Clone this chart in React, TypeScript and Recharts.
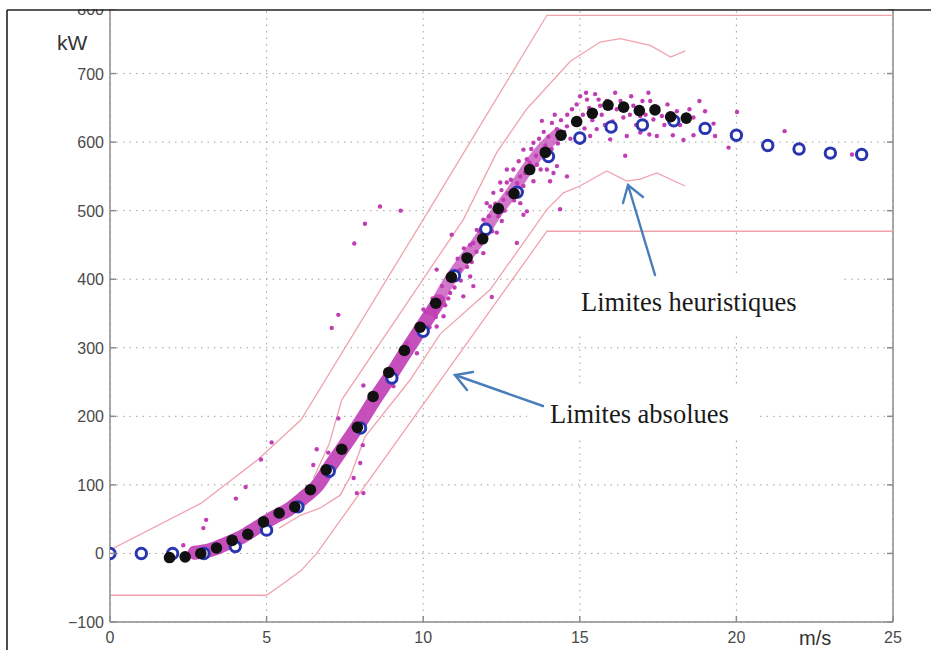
import React from "react";
import {
  ComposedChart,
  Line,
  Scatter,
  XAxis,
  YAxis,
  CartesianGrid,
  ReferenceLine
} from "recharts";

// tick labels
const xTicks = [0, 5, 10, 15, 20, 25];
const yTicks = [-100, 0, 100, 200, 300, 400, 500, 600, 700, 800];

// bin averages (black dots)
const binX = [1.9, 2.4, 2.9, 3.4, 3.9, 4.4, 4.9, 5.4, 5.9, 6.4, 6.9, 7.4, 7.9, 8.4, 8.9, 9.4, 9.9, 10.4, 10.9, 11.4, 11.9, 12.4, 12.9, 13.4, 13.9, 14.4, 14.9, 15.4, 15.9, 16.4, 16.9, 17.4, 17.9, 18.4];
const binY = [-6, -5, 0, 8, 19, 28, 46, 59, 68, 93, 122, 152, 184, 229, 264, 296, 330, 365, 403, 431, 459, 503, 525, 560, 585, 610, 630, 642, 654, 651, 646, 647, 637, 635];

// reference curve (blue rings)
const refX = [0, 1, 2, 3, 4, 5, 6, 7, 8, 9, 10, 11, 12, 13, 14, 15, 16, 17, 18, 19, 20, 21, 22, 23, 24];
const refY = [0, 0, 0, 0, 10, 34, 68, 120, 183, 256, 324, 405, 473, 527, 579, 606, 622, 625, 631, 620, 610, 595, 590, 584, 582];

// dense cloud of measurements
const denseBand: [number, number][] = [
  [2.7, 1], [3.2, 5], [3.7, 14], [4.2, 24], [4.7, 38], [5.2, 52], [5.7, 64], [6.2, 82],
  [6.6, 98], [7.0, 125], [7.5, 158], [8.0, 192], [8.5, 228], [9.0, 262], [9.5, 298], [10.0, 333], [10.5, 368]
];
const looseBand: [number, number][] = [
  [10.3, 355], [10.8, 395], [11.3, 428], [11.8, 458], [12.3, 495], [12.8, 525], [13.3, 560], [13.8, 590], [14.3, 612]
];

// scattered measurements
const spreadDots: [number, number][] = [
  [2.34, 12], [2.98, 37], [3.07, 49], [4.02, 80], [4.33, 97], [4.82, 137], [5.16, 162], [6.49, 129],
  [6.6, 152], [6.97, 147], [7.29, 197], [8.09, 245], [7.88, 88], [8.09, 88], [7.78, 110], [7.99, 132],
  [8.07, 158], [7.29, 348], [7.08, 329], [7.8, 452], [8.14, 481], [8.62, 506], [9.28, 500], [9.05, 244],
  [9.48, 307], [9.8, 292], [10.01, 356], [10.43, 331], [10.43, 414], [10.65, 346], [10.86, 380], [10.91, 465],
  [11.18, 414], [11.28, 375], [11.5, 404], [11.6, 390], [11.6, 453], [11.71, 472], [11.92, 438], [11.92, 487],
  [12.03, 511], [12.14, 506], [12.19, 374], [12.24, 526], [12.35, 468], [12.46, 541], [12.51, 485], [12.56, 516],
  [12.67, 541], [12.67, 560], [12.88, 560], [12.99, 453], [13.1, 511], [13.1, 550], [13.2, 494], [13.2, 536],
  [13.2, 589], [13.31, 499], [13.31, 575], [13.52, 543], [13.52, 599], [13.63, 567], [13.79, 631], [13.95, 560],
  [14.05, 543], [14.11, 628], [14.16, 555], [14.27, 565], [14.27, 619], [14.37, 502], [14.59, 550], [14.59, 623],
  [14.75, 648], [15.01, 599], [15.01, 667], [15.2, 672], [15.23, 662], [15.33, 609], [15.49, 670], [15.54, 619],
  [15.65, 653], [15.86, 660], [15.97, 604], [16.13, 672], [16.18, 648], [16.39, 636], [16.45, 580], [16.5, 609],
  [16.64, 667], [16.71, 653], [16.93, 614], [16.93, 638], [17.19, 672], [17.25, 660], [17.22, 611], [17.35, 633],
  [17.46, 609], [17.62, 638], [17.7, 625], [17.97, 610], [18.31, 603], [18.63, 610], [18.63, 636], [18.82, 660],
  [19.27, 627], [19.32, 609], [19.75, 592], [20.02, 644], [21.54, 616], [23.69, 582],
  [10.1, 352], [10.2, 330], [10.3, 372], [10.4, 345], [10.6, 390], [10.7, 362], [10.8, 372], [10.9, 410],
  [11.0, 388], [11.1, 430], [11.2, 398], [11.3, 445], [11.4, 418], [11.5, 450], [11.55, 425], [11.7, 440],
  [11.8, 470], [11.85, 452], [12.0, 478], [12.1, 492], [12.2, 470], [12.3, 510], [12.4, 492], [12.5, 530],
  [12.6, 500], [12.7, 525], [12.8, 545], [12.9, 515], [13.0, 540], [13.05, 572], [13.15, 528], [13.25, 555],
  [13.4, 570], [13.45, 590], [13.6, 580], [13.7, 605], [13.75, 560], [13.85, 615], [13.9, 595], [14.0, 608],
  [14.1, 590], [14.2, 640], [14.3, 598], [14.4, 632], [14.5, 615], [14.6, 640], [14.7, 605], [14.85, 630],
  [14.9, 655], [15.1, 640], [15.15, 620], [15.3, 650], [15.4, 632], [15.6, 662], [15.7, 640], [15.8, 625],
  [16.0, 650], [16.05, 630], [16.3, 660], [16.6, 640], [16.8, 625], [17.0, 660], [17.1, 640], [17.5, 650],
  [17.8, 655], [18.1, 645], [18.2, 625], [18.5, 648], [19.0, 645]
];

// limit curves
const upperAbs: [number, number][] = [[0, 5], [2.9, 73], [4.7, 136], [6.1, 195], [10, 487], [13.95, 785], [25, 785]];
const lowerAbs: [number, number][] = [[0, -61], [5, -61], [5.5, -45], [6.1, -25], [6.6, 0], [13.95, 470], [25, 470]];
const upperHeur: [number, number][] = [
  [6.5, 110], [7.0, 160], [7.4, 224], [11.28, 487], [12.35, 585], [13.3, 648], [14.7, 718], [15.65, 746],
  [16.29, 751], [17.25, 741], [17.9, 724], [18.37, 733]
];
const lowerHeur: [number, number][] = [
  [5.4, 37], [6.1, 56], [6.7, 66], [7.35, 85], [7.67, 112], [8.14, 170], [9.58, 253], [10.54, 320],
  [12.14, 385], [13.2, 453], [13.95, 502], [14.48, 526], [15.0, 536], [15.86, 558], [16.5, 543],
  [16.93, 546], [17.46, 555], [18.36, 536]
];

const pts = (a: [number, number][]) => a.map(([x, y]) => ({ x, y }));
const zip = (xs: number[], ys: number[]) => xs.map((x, i) => ({ x, y: ys[i] }));

const PINK = "#f0a3ad";
const MAGENTA = "#c03db4";
const BLUE = "#2a36b0";
const AXIS = "#8c8c8c";
const GRID = "#a0a0a0";
const PLOT_W = 783;
const TICK_FONT = "'Liberation Sans', Arial, sans-serif";

const XTick = (p: any) => (
  <g>
    <line x1={p.x} x2={p.x} y1={p.y} y2={p.y - 6} stroke={AXIS} strokeWidth={1.5} />
    <text x={p.x} y={p.y + 21} textAnchor="middle" fontSize={16} fill="#4a4a4a" fontFamily={TICK_FONT}>
      {p.payload.value}
    </text>
  </g>
);

const YTick = (p: any) => (
  <g>
    <line x1={p.x} x2={p.x + 6} y1={p.y} y2={p.y} stroke={AXIS} strokeWidth={1.5} />
    <line x1={p.x + PLOT_W - 6} x2={p.x + PLOT_W} y1={p.y} y2={p.y} stroke={AXIS} strokeWidth={1.5} />
    <text x={p.x - 6} y={p.y + 6} textAnchor="end" fontSize={16} fill="#4a4a4a" fontFamily={TICK_FONT}>
      {p.payload.value < 0 ? "\u2212" + Math.abs(p.payload.value) : p.payload.value}
    </text>
  </g>
);

const smallDot = (p: any) => <circle cx={p.cx} cy={p.cy} r={2.2} fill={MAGENTA} />;
const blackDot = (p: any) => <circle cx={p.cx} cy={p.cy} r={5.8} fill="#111" />;
const ring = (p: any) => <circle cx={p.cx} cy={p.cy} r={5.2} fill="#fff" stroke={BLUE} strokeWidth={3} />;

const limitLine = (data: [number, number][], key: string) => (
  <Line
    key={key}
    data={pts(data)}
    dataKey="y"
    type="linear"
    stroke={PINK}
    strokeWidth={1.3}
    dot={false}
    isAnimationActive={false}
  />
);

export default function App() {
  return (
    <div style={{ position: "absolute", left: 0, top: 0, width: 931, height: 650, background: "#fff", overflow: "hidden" }}>
      <ComposedChart width={931} height={650} margin={{ top: 5, right: 38, bottom: 6, left: 60 }}>
        <CartesianGrid stroke={GRID} strokeDasharray="1.5 5" />
        <XAxis
          type="number"
          dataKey="x"
          domain={[0, 25]}
          ticks={xTicks}
          height={22}
          tickSize={0}
          tickMargin={0}
          tick={<XTick />}
          axisLine={{ stroke: AXIS, strokeWidth: 1.5 }}
          allowDataOverflow
        />
        <YAxis
          type="number"
          dataKey="y"
          domain={[-100, 800]}
          ticks={yTicks}
          width={50}
          tickSize={0}
          tickMargin={0}
          tick={<YTick />}
          axisLine={{ stroke: AXIS, strokeWidth: 1.5 }}
          allowDataOverflow
        />
        <ReferenceLine x={25} stroke={AXIS} strokeWidth={1.5} />
        <ReferenceLine y={800} stroke={AXIS} strokeWidth={1.5} />

        {limitLine(upperAbs, "ua")}
        {limitLine(lowerAbs, "la")}
        {limitLine(upperHeur, "uh")}
        {limitLine(lowerHeur, "lh")}

        <Line data={pts(looseBand)} dataKey="y" type="monotone" stroke={MAGENTA} strokeOpacity={0.7} strokeWidth={12} strokeLinecap="round" dot={false} isAnimationActive={false} />
        <Line data={pts(denseBand)} dataKey="y" type="monotone" stroke={MAGENTA} strokeOpacity={0.9} strokeWidth={14} strokeLinecap="round" dot={false} isAnimationActive={false} />
        <Scatter data={pts(spreadDots)} dataKey="y" shape={smallDot} isAnimationActive={false} />
        <Scatter data={zip(refX, refY)} dataKey="y" shape={ring} isAnimationActive={false} />
        <Scatter data={zip(binX, binY)} dataKey="y" shape={blackDot} isAnimationActive={false} />
      </ComposedChart>

      <svg width={931} height={650} style={{ position: "absolute", left: 0, top: 0 }}>
        <rect x={0} y={0} width={931} height={9} fill="#fff" />
        <line x1={7} x2={931} y1={10} y2={10} stroke="#222" strokeWidth={1.6} />
        <line x1={7} x2={7} y1={10} y2={650} stroke="#222" strokeWidth={1.6} />

        <text x={57} y={50} fontSize={21} fill="#333" fontFamily={TICK_FONT}>kW</text>
        <text x={799} y={645} fontSize={20} fill="#333" fontFamily={TICK_FONT}>m/s</text>

        <rect x={560} y={274} width={280} height={58} fill="#fff" />
        <rect x={527} y={388} width={233} height={50} fill="#fff" />
        <text x={581} y={311} fontSize={26.5} fill="#1a1a1a" fontFamily="'Liberation Serif', 'Times New Roman', serif">
          Limites heuristiques
        </text>
        <text x={550} y={423} fontSize={26.5} fill="#1a1a1a" fontFamily="'Liberation Serif', 'Times New Roman', serif">
          Limites absolues
        </text>

        <g stroke="#4a7ebb" strokeWidth={2.4} fill="none" strokeLinecap="round">
          <line x1={655} y1={275} x2={628} y2={185} />
          <polyline points="623,203 628,185 643,197" />
          <line x1={543} y1={406} x2={455} y2={375} />
          <polyline points="467,390 455,375 473,372" />
        </g>
      </svg>
    </div>
  );
}
